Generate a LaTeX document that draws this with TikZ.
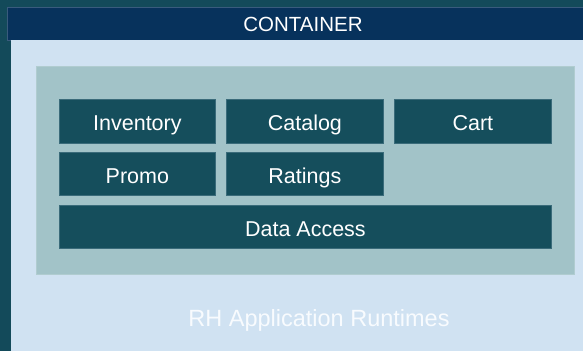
\documentclass[tikz,border=0pt]{standalone}
\usepackage{fontspec}
\setmainfont{Liberation Sans}
\definecolor{bgteal}{HTML}{134A5A}
\definecolor{hdrblue}{HTML}{07325C}
\definecolor{panelblue}{HTML}{D0E2F2}
\definecolor{innerteal}{HTML}{A2C3C8}
\definecolor{boxteal}{HTML}{154E5C}
\definecolor{boxedge}{HTML}{3A6B7A}
\definecolor{lighttext}{HTML}{F8FBFE}
\begin{document}
\begin{tikzpicture}[x=1pt,y=-1pt,
  every node/.style={inner sep=0pt},
  svc/.style={font=\fontsize{21.5}{24}\selectfont,text height=18.8pt,text depth=0pt,draw=boxedge,line width=0.8pt,fill=boxteal,text=white,anchor=north west}]
\useasboundingbox (0,0) rectangle (583,351);
\fill[bgteal] (0,0) rectangle (583,351);
\node[fill=hdrblue,draw=hdrblue!80!white,line width=0.5pt,minimum width=576pt,minimum height=33pt,anchor=north west] (hdr) at (7,7) {};
\node[font=\fontsize{20.5}{24}\selectfont,text height=14.7pt,text depth=0pt,text=white] (hdrtxt) at (303,24.3) {CONTAINER};
\node[fill=panelblue,minimum width=572pt,minimum height=311pt,anchor=north west] (panel) at (11,40) {};
\node[fill=innerteal,draw=innerteal!85!white,line width=0.5pt,minimum width=538pt,minimum height=208pt,anchor=north west] (inner) at (36,66) {};
\node[svc,minimum width=156pt,minimum height=44pt] (inv) at (59,99) {Inventory};
\node[svc,minimum width=157pt,minimum height=44pt] (cat) at (226,99) {Catalog};
\node[svc,minimum width=157pt,minimum height=44pt] (cart) at (394,99) {Cart};
\node[svc,minimum width=156pt,minimum height=43pt] (promo) at (59,152) {Promo};
\node[svc,minimum width=157pt,minimum height=43pt] (rat) at (226,152) {Ratings};
\node[svc,minimum width=492pt,minimum height=43pt] (da) at (59,205) {Data Access};
\node[font=\fontsize{23.5}{28}\selectfont,text height=16.8pt,text depth=0pt,text=lighttext] (rh) at (319,318.3) {RH Application Runtimes};
\end{tikzpicture}
\end{document}
